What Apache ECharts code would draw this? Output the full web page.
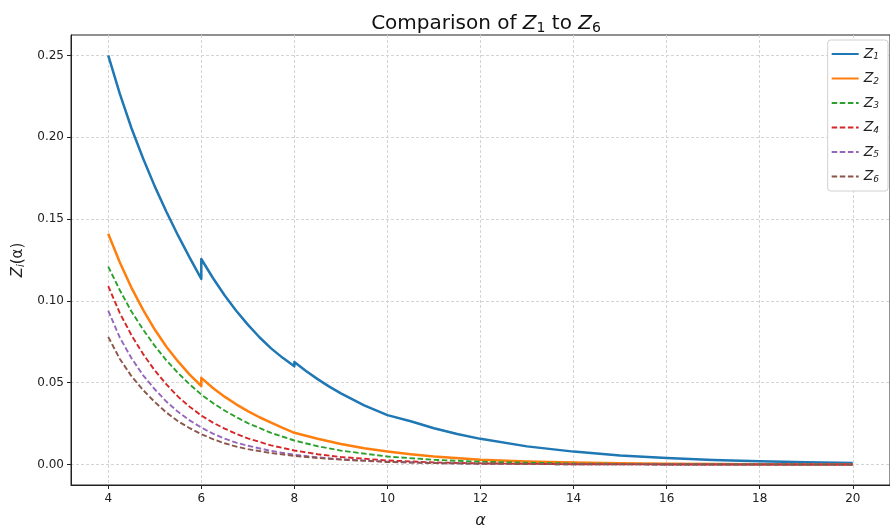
<!DOCTYPE html>
<html>
<head>
<meta charset="utf-8">
<script src="https://cdn.jsdelivr.net/npm/echarts@6/dist/echarts.min.js"></script>
<style>
  html, body { margin: 0; padding: 0; background: #fff; }
  #plot { width: 890px; height: 527px; }
</style>
</head>
<body>
<div id="plot"></div>
<script>
// values (repeated alpha = jump in the curve)
const alphaZ1 = [4, 4.25, 4.5, 4.75, 5, 5.25, 5.5, 5.75, 6, 6, 6.25, 6.5, 6.75, 7, 7.25, 7.5, 7.75, 8, 8, 8.25, 8.5, 8.75, 9, 9.5, 10, 10, 10.5, 11, 11.5, 12, 13, 14, 15, 16, 17, 18, 19, 20];
const z1 = [0.250, 0.2265, 0.2055, 0.187, 0.170, 0.1545, 0.140, 0.1265, 0.1135, 0.1256, 0.1140, 0.1035, 0.0940, 0.0855, 0.0778, 0.0710, 0.0652, 0.0600, 0.0627, 0.0572, 0.0522, 0.0476, 0.0435, 0.0362, 0.0302, 0.0314, 0.0265, 0.0222, 0.0187, 0.0157, 0.0111, 0.0079, 0.0056, 0.0040, 0.0028, 0.0020, 0.0014, 0.0010];

const alphaZ2 = [4, 4.25, 4.5, 4.75, 5, 5.25, 5.5, 5.75, 6, 6, 6.25, 6.5, 6.75, 7, 7.25, 7.5, 7.75, 8, 8, 8.5, 9, 9.5, 10, 10.5, 11, 12, 13, 14, 15, 16, 18, 20];
const z2 = [0.141, 0.1235, 0.108, 0.0945, 0.0825, 0.072, 0.063, 0.055, 0.048, 0.053, 0.0468, 0.0415, 0.0368, 0.0326, 0.0289, 0.0256, 0.0224, 0.0194, 0.0200, 0.0158, 0.0126, 0.0100, 0.0080, 0.0063, 0.0049, 0.0030, 0.0019, 0.0012, 0.0008, 0.0005, 0.0002, 0.0001];

const alpha = [4, 4.25, 4.5, 4.75, 5, 5.25, 5.5, 5.75, 6, 6.25, 6.5, 6.75, 7, 7.5, 8, 8.5, 9, 10, 11, 12, 14, 16, 18, 20];
const z3 = [0.121, 0.1065, 0.0935, 0.0825, 0.0725, 0.0637, 0.0560, 0.0490, 0.0428, 0.0376, 0.0330, 0.0290, 0.0253, 0.0193, 0.0147, 0.0112, 0.0085, 0.0049, 0.0029, 0.0017, 0.0006, 0.0002, 0.0001, 0.00003];
const z4 = [0.109, 0.0925, 0.079, 0.0675, 0.0575, 0.049, 0.0415, 0.0353, 0.0300, 0.0256, 0.0220, 0.0188, 0.0160, 0.0117, 0.0086, 0.0063, 0.0046, 0.0025, 0.0013, 0.0007, 0.0002, 0.00006, 0.00002, 0.00001];
const z5 = [0.094, 0.0775, 0.065, 0.0545, 0.046, 0.0385, 0.0322, 0.0270, 0.0226, 0.0189, 0.0158, 0.0134, 0.0115, 0.0083, 0.0060, 0.0044, 0.0032, 0.0017, 0.0009, 0.0005, 0.00015, 0.00005, 0.00002, 0.00001];
const z6 = [0.078, 0.0645, 0.054, 0.0455, 0.0382, 0.0318, 0.0265, 0.0222, 0.0186, 0.0155, 0.0130, 0.0110, 0.0094, 0.0070, 0.0053, 0.0040, 0.0030, 0.0016, 0.0009, 0.0005, 0.00015, 0.00005, 0.00002, 0.00001];

const xTicks = [4, 6, 8, 10, 12, 14, 16, 18, 20];
const yTicks = [0, 0.05, 0.1, 0.15, 0.2, 0.25];

const font = "DejaVu Sans";
const colors = ["#1f77b4", "#ff7f0e", "#2ca02c", "#d62728", "#9467bd", "#8c564b"];

function pairs(xs, ys) {
  return xs.map(function (x, i) { return [x, ys[i]]; });
}

function makeSeries(name, xs, ys, idx, dashed) {
  return {
    name: name,
    type: "line",
    data: pairs(xs, ys),
    showSymbol: false,
    symbol: "none",
    animation: false,
    color: colors[idx],
    lineStyle: {
      color: colors[idx],
      width: dashed ? 1.9 : 2.5,
      type: dashed ? [5.5, 2.6] : "solid",
      join: "round",
    },
  };
}

const sub = {
  z: { fontFamily: font, fontSize: 14, fontStyle: "italic", color: "#222" },
  s: { fontFamily: font, fontSize: 9, fontStyle: "italic", color: "#222", padding: [6, 0, 0, 0] },
};

const myChart = echarts.init(document.getElementById("plot"), null, { renderer: "canvas" });
const option = {
  backgroundColor: "#fff",
  animation: false,
  title: {
    text: "Comparison of {t|Z}{ts|1} to {t|Z}{ts|6}",
    left: 481,
    textAlign: "center",
    top: 7,
    textStyle: {
      fontFamily: font,
      fontSize: 20,
      fontWeight: "normal",
      color: "#111",
      rich: {
        t: { fontFamily: font, fontSize: 20, fontStyle: "italic", color: "#111" },
        ts: { fontFamily: font, fontSize: 14, color: "#111", padding: [9, 0, 0, 0] },
      },
    },
  },
  legend: {
    orient: "vertical",
    right: 2,
    top: 40,
    itemWidth: 27,
    itemHeight: 14,
    itemGap: 10,
    padding: [7, 9, 7, 3],
    backgroundColor: "#fff",
    borderColor: "#d0d0d0",
    borderWidth: 1,
    borderRadius: 3,
    itemStyle: { opacity: 0 },
    data: ["Z1", "Z2", "Z3", "Z4", "Z5", "Z6"],
    formatter: function (name) {
      return "{z|Z}{s|" + name.slice(1) + "}";
    },
    textStyle: { rich: sub },
  },
  grid: {
    left: 71,
    right: 0,
    top: 35,
    bottom: 42,
    outerBoundsMode: "none",
    show: true,
    borderColor: "#222",
    borderWidth: 1,
  },
  xAxis: {
    type: "value",
    min: 3.2,
    max: 20.8,
    name: "α",
    nameLocation: "middle",
    nameGap: 28,
    nameTextStyle: { fontFamily: font, fontSize: 16, fontStyle: "italic", color: "#222" },
    axisLine: { show: true, onZero: false, lineStyle: { color: "#222", width: 1 } },
    axisTick: { show: true, length: 4, customValues: xTicks, lineStyle: { color: "#222" } },
    axisLabel: { customValues: xTicks, fontFamily: font, fontSize: 12, color: "#222", margin: 8 },
    splitLine: { show: true, lineStyle: { color: "#d4d4d4", type: [3, 2], width: 1 } },
  },
  yAxis: {
    type: "value",
    min: -0.0125,
    max: 0.2625,
    name: "{z|Z}{s|i}{n|(α)}",
    nameLocation: "middle",
    nameGap: 44,
    nameRotate: 90,
    nameTextStyle: {
      rich: {
        z: { fontFamily: font, fontSize: 15, fontStyle: "italic", color: "#222" },
        s: { fontFamily: font, fontSize: 10, fontStyle: "italic", color: "#222", padding: [6, 0, 0, 0] },
        n: { fontFamily: font, fontSize: 15, color: "#222" },
      },
    },
    axisLine: { show: true, onZero: false, lineStyle: { color: "#222", width: 1 } },
    axisTick: { show: true, length: 4, customValues: yTicks, lineStyle: { color: "#222" } },
    axisLabel: {
      customValues: yTicks,
      fontFamily: font,
      fontSize: 12,
      color: "#222",
      margin: 7,
      formatter: function (v) { return v.toFixed(2); },
    },
    splitLine: { show: true, lineStyle: { color: "#d4d4d4", type: [3, 2], width: 1 } },
  },
  series: [
    makeSeries("Z1", alphaZ1, z1, 0, false),
    makeSeries("Z2", alphaZ2, z2, 1, false),
    makeSeries("Z3", alpha, z3, 2, true),
    makeSeries("Z4", alpha, z4, 3, true),
    makeSeries("Z5", alpha, z5, 4, true),
    makeSeries("Z6", alpha, z6, 5, true),
  ],
};
myChart.setOption(option);
</script>
</body>
</html>
